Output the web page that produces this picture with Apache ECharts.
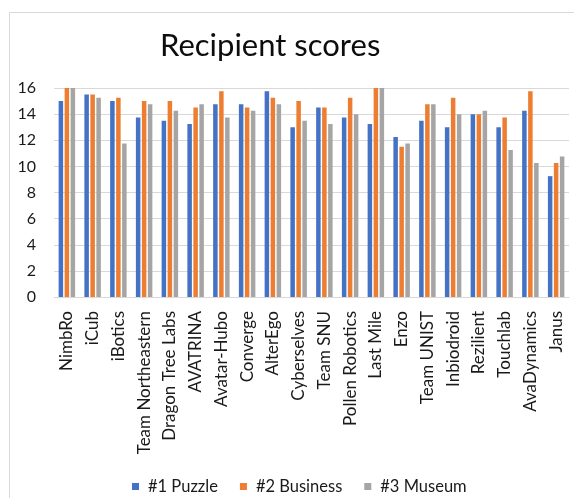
<!DOCTYPE html>
<html>
<head>
<meta charset="utf-8">
<script src="https://cdn.jsdelivr.net/npm/echarts@6/dist/echarts.min.js"></script>
<style>
html,body{margin:0;padding:0;background:#fff;}
#chart{width:574px;height:498px;}
</style>
</head>
<body>
<div id="chart"></div>
<script>
var categories = ["NimbRo","iCub","iBotics","Team Northeastern","Dragon Tree Labs","AVATRINA","Avatar-Hubo","Converge","AlterEgo","Cyberselves","Team SNU","Pollen Robotics","Last Mile","Enzo","Team UNIST","Inbiodroid","Rezilient","Touchlab","AvaDynamics","Janus"];
var puzzle   = [15, 15.5, 15, 13.75, 13.5, 13.25, 14.75, 14.75, 15.75, 13, 14.5, 13.75, 13.25, 12.25, 13.5, 13, 14, 13, 14.25, 9.25];
var business = [16, 15.5, 15.25, 15, 15, 14.5, 15.75, 14.5, 15.25, 15, 14.5, 15.25, 16, 11.5, 14.75, 15.25, 14, 13.75, 15.75, 10.25];
var museum   = [16, 15.25, 11.75, 14.75, 14.25, 14.75, 13.75, 14.25, 14.75, 13.5, 13.25, 14, 16, 11.75, 14.75, 14, 14.25, 11.25, 10.25, 10.75];
var seriesNames = ["#1 Puzzle", "#2 Business", "#3 Museum"];
var yTicks = {min: 0, max: 16, interval: 2};

var FONT = 'Lato';
var chart = echarts.init(document.getElementById('chart'), null, {renderer: 'canvas'});
function bar(name, data, color) {
  return {name: name, type: 'bar', data: data, barWidth: 4.5, barGap: '33%',
          itemStyle: {color: color}};
}
chart.setOption({
  backgroundColor: '#fff',
  animation: false,
  textStyle: {fontFamily: FONT},
  title: {
    text: 'Recipient scores', left: 155, top: 25,
    textStyle: {fontFamily: FONT, fontSize: 31, fontWeight: 'normal', color: '#0d0d0d'}
  },
  graphic: [{
    type: 'polyline', shape: {points: [[9.5, 498], [9.5, 12.5], [574, 12.5]]},
    style: {stroke: '#d9d9d9', lineWidth: 1, fill: null}, silent: true
  }],
  legend: {
    data: seriesNames, left: 127, top: 473, icon: 'rect', itemWidth: 7, itemHeight: 7,
    itemGap: 22,
    textStyle: {fontFamily: FONT, fontSize: 16.5, color: '#1a1a1a', padding: [0, 0, 0, 4]}
  },
  grid: {left: 54, right: 5, top: 88, bottom: 201, containLabel: false},
  xAxis: {
    type: 'category', data: categories,
    axisLine: {lineStyle: {color: '#d9d9d9'}},
    axisTick: {show: false},
    axisLabel: {rotate: 90, margin: 14, interval: 0, fontFamily: FONT, fontSize: 17, color: '#1a1a1a'}
  },
  yAxis: {
    type: 'value', min: yTicks.min, max: yTicks.max, interval: yTicks.interval,
    axisLine: {show: false}, axisTick: {show: false},
    splitLine: {lineStyle: {color: '#d9d9d9'}},
    axisLabel: {margin: 18, fontFamily: FONT, fontSize: 16, color: '#1a1a1a'}
  },
  series: [
    bar(seriesNames[0], puzzle, '#4472C4'),
    bar(seriesNames[1], business, '#ED7D31'),
    bar(seriesNames[2], museum, '#A5A5A5')
  ]
});
</script>
</body>
</html>
